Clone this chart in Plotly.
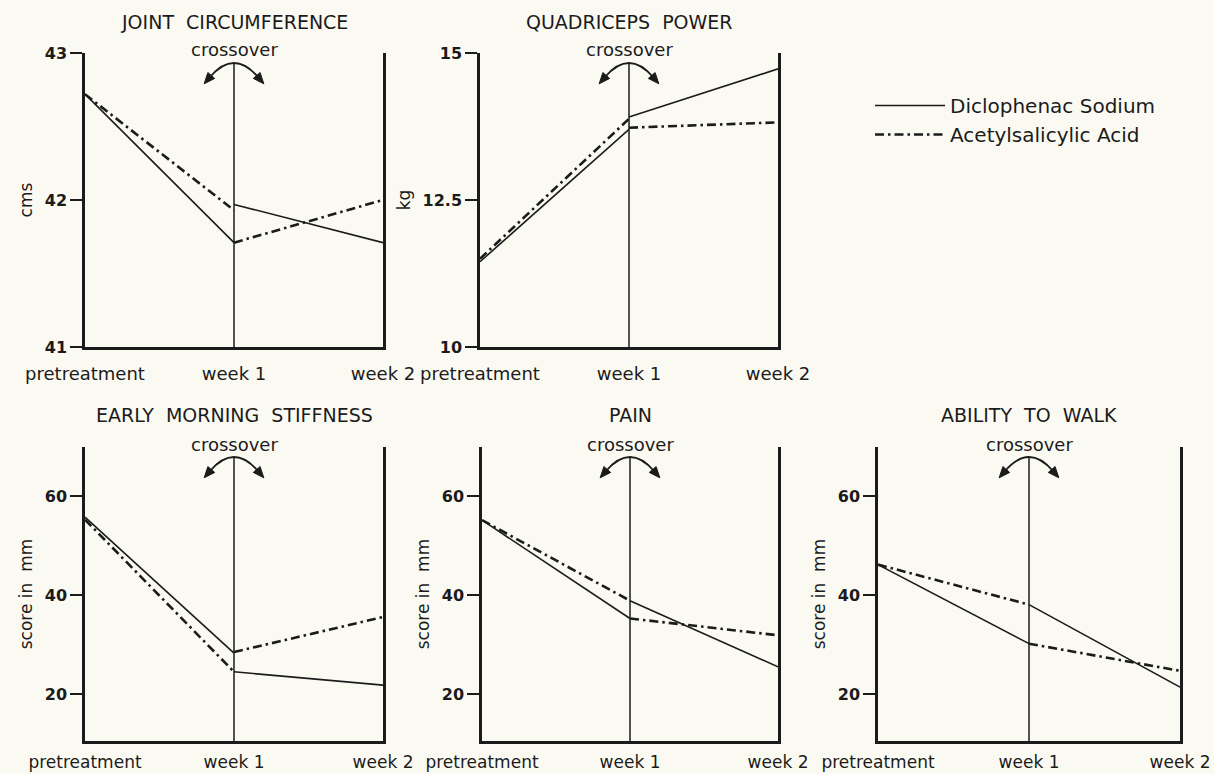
import math
import plotly.graph_objects as go

# ---------------- data ----------------
categories = ["pretreatment", "week 1", "week 2"]

panel_titles = ["JOINT  CIRCUMFERENCE", "QUADRICEPS  POWER",
                "EARLY  MORNING  STIFFNESS", "PAIN", "ABILITY  TO  WALK"]
y_titles = ["cms", "kg", "score in  mm", "score in  mm", "score in  mm"]
y_tickvals = [[41, 42, 43], [10, 12.5, 15], [20, 40, 60], [20, 40, 60], [20, 40, 60]]
y_ticktext = [["41", "42", "43"], ["10", "12.5", "15"], ["20", "40", "60"],
              ["20", "40", "60"], ["20", "40", "60"]]
y_ranges = [[41, 43], [10, 15], [10.5, 70], [10.5, 70], [10.5, 70]]

# values: pretreatment, week 1 (end of 1st period), week 1 (start of 2nd period), week 2
dicl_joint = [42.72, 41.71, 41.97, 41.71]
asa_joint = [42.72, 41.93, 41.71, 42.00]
dicl_quad = [11.45, 13.70, 13.91, 14.73]
asa_quad = [11.50, 13.88, 13.73, 13.82]
dicl_stiff = [55.8, 28.3, 24.5, 21.8]
asa_stiff = [55.3, 24.5, 28.5, 35.6]
dicl_pain = [55.2, 35.3, 38.9, 25.5]
asa_pain = [55.2, 38.9, 35.3, 31.9]
dicl_walk = [46.2, 30.2, 38.1, 21.4]
asa_walk = [46.2, 38.1, 30.2, 24.7]

dicl_series = [dicl_joint, dicl_quad, dicl_stiff, dicl_pain, dicl_walk]
asa_series = [asa_joint, asa_quad, asa_stiff, asa_pain, asa_walk]
series_names = ["Diclophenac Sodium", "Acetylsalicylic Acid"]

# ---------------- layout geometry ----------------
W, H = 1214, 774
BG = "#fbfaf2"
INK = "#1b1b1b"
# panel boxes in pixels: left, right, top, bottom
boxes = [(85, 383, 53, 347), (480, 778, 53, 347),
         (85, 383, 447, 741), (482, 778, 447, 741), (878, 1180, 447, 741)]
title_y = [22, 22, 415, 415, 415]
x_label_gap = [9, 9, 4, 4, 4]

FONT = "DejaVu Sans"


def px(x):
    return x / W


def py(y):
    return 1 - y / H


fig = go.Figure()
x_seg = [categories[0], categories[1], None, categories[1], categories[2]]

shapes = []
annotations = []

for i in range(5):
    n = "" if i == 0 else str(i + 1)
    xa, ya = "x" + n, "y" + n
    L, R, T, B = boxes[i]

    for s, (vals, dash, lw) in enumerate([(dicl_series[i], "solid", 1.6),
                                          (asa_series[i], "9px,4px,2.5px,4px", 2.6)]):
        yv = [vals[0], vals[1], None, vals[2], vals[3]]
        fig.add_trace(go.Scatter(
            x=x_seg, y=yv, mode="lines", connectgaps=False,
            line=dict(color=INK, width=lw, dash=dash),
            name=series_names[s], showlegend=(i == 0),
            xaxis=xa, yaxis=ya, hoverinfo="skip"))

    fig.layout["xaxis" + n] = dict(
        domain=[px(L), px(R)], anchor=ya, type="category",
        categoryorder="array", categoryarray=categories,
        range=[0, 2], showline=True, linecolor=INK, linewidth=2.5,
        mirror=False, showgrid=False, zeroline=False, automargin=False,
        ticks="outside", ticklen=x_label_gap[i], tickcolor="rgba(0,0,0,0)",
        tickfont=dict(family=FONT, size=18 if i < 2 else 17, color=INK),
        fixedrange=True)
    fig.layout["yaxis" + n] = dict(
        domain=[py(B), py(T)], anchor=xa, range=y_ranges[i],
        showline=True, linecolor=INK, linewidth=2.5, mirror=True,
        showgrid=False, zeroline=False, automargin=False,
        tickmode="array", tickvals=y_tickvals[i], ticktext=y_ticktext[i],
        ticks="outside", ticklen=12, tickwidth=2, tickcolor=INK,
        tickfont=dict(family=FONT, size=16, color=INK, weight="bold"),
        title=dict(text=y_titles[i], standoff=8,
                   font=dict(family=FONT, size=17, color=INK)),
        fixedrange=True)

    # crossover vertical line at week 1
    wx = (L + R) / 2
    shapes.append(dict(type="line", xref=xa, yref=ya + " domain",
                       x0=1, x1=1, y0=0, y1=1 - 10 / (B - T),
                       line=dict(color=INK, width=1.5)))

    # curved double arrow
    sx, sy = 24, 24
    cy = -4
    p0 = (wx - sx, T + sy)
    c = (wx, T + cy)
    p1 = (wx + sx, T + sy)
    shapes.append(dict(
        type="path", xref="paper", yref="paper",
        path=f"M{px(p0[0])},{py(p0[1])} Q{px(c[0])},{py(c[1])} {px(p1[0])},{py(p1[1])}",
        line=dict(color=INK, width=1.8)))
    for end in (p0, p1):
        dx, dy = end[0] - c[0], end[1] - c[1]
        d = math.hypot(dx, dy)
        ux, uy = dx / d, dy / d
        tip = (end[0] + 9 * ux, end[1] + 9 * uy)
        base = (end[0] - 2 * ux, end[1] - 2 * uy)
        vx, vy = -uy, ux
        a = (base[0] + 4.5 * vx, base[1] + 4.5 * vy)
        b = (base[0] - 4.5 * vx, base[1] - 4.5 * vy)
        shapes.append(dict(
            type="path", xref="paper", yref="paper",
            path=(f"M{px(tip[0])},{py(tip[1])} L{px(a[0])},{py(a[1])} "
                  f"L{px(b[0])},{py(b[1])} Z"),
            fillcolor=INK, line=dict(color=INK, width=1)))

    annotations.append(dict(
        text="crossover", xref=xa, x=1, yref="paper", y=py(T - 3),
        showarrow=False, xanchor="center", yanchor="middle",
        font=dict(family=FONT, size=18, color=INK)))
    annotations.append(dict(
        text=panel_titles[i], xref=xa, x=1, yref="paper", y=py(title_y[i]),
        showarrow=False, xanchor="center", yanchor="middle",
        font=dict(family=FONT, size=19, color=INK)))

fig.update_layout(
    width=W, height=H, autosize=False,
    margin=dict(l=0, r=0, t=0, b=0, pad=0),
    paper_bgcolor=BG, plot_bgcolor=BG,
    shapes=shapes, annotations=annotations,
    showlegend=True,
    legend=dict(x=px(870), y=py(86), xanchor="left", yanchor="top",
                bgcolor="rgba(0,0,0,0)", itemwidth=70,
                font=dict(family=FONT, size=20, color=INK),
                tracegroupgap=0),
)

fig.write_html("out.html", config={"displayModeBar": False},
               post_script="document.body.style.margin='0';document.body.style.background='%s';" % BG)
